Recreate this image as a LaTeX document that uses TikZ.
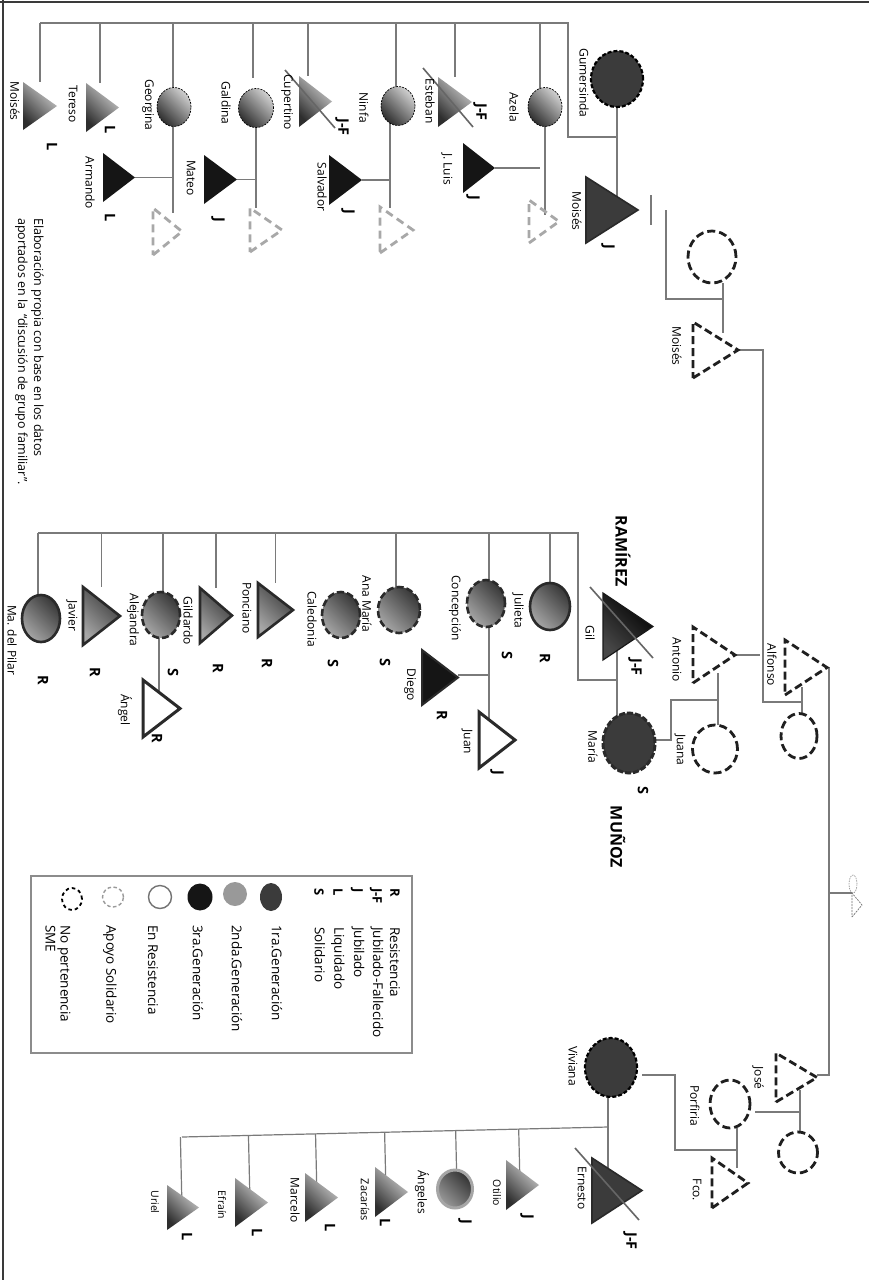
\documentclass[tikz,border=0pt]{standalone}
\usepackage{fontspec}
\setmainfont{Open Sans}
\usetikzlibrary{shapes.geometric,calc}
\pgfdeclarelayer{paper}
\pgfdeclarelayer{links}
\pgfsetlayers{paper,links,main}

\definecolor{linkgray}{HTML}{7A7A7A}
\definecolor{firstgen}{HTML}{3B3B3B}
\definecolor{thirdgen}{HTML}{151515}
\definecolor{edgedark}{HTML}{2A2A2A}
\definecolor{supportgray}{HTML}{A8A8A8}
\definecolor{framegray}{HTML}{3A3A3A}

\tikzset{
  link/.style={draw=linkgray, line width=1.2pt},
  name label/.style={rotate=-90, inner sep=0pt, font=\fontsize{12}{14}\selectfont},
  small label/.style={rotate=-90, inner sep=0pt, font=\fontsize{10.5}{12}\selectfont},
  code/.style={rotate=-90, inner sep=0pt, font=\bfseries\fontsize{14.5}{16}\selectfont},
  surname/.style={rotate=-90, inner sep=0pt, font=\bfseries\fontsize{16}{18}\selectfont},
  legend text/.style={rotate=-90, inner sep=0pt, anchor=west, align=left, font=\fontsize{13.5}{15}\selectfont},
  legend code/.style={rotate=-90, inner sep=0pt, anchor=west, font=\bfseries\fontsize{13}{15}\selectfont},
  bbox/.style={rectangle, inner sep=0pt, outer sep=0pt, draw=none},
  person/.style={ellipse, inner sep=0pt, outer sep=0pt},
  gen2a/.style={top color=black!18, bottom color=black!82, shading angle=-45},
  gen2acirc/.style={gen2a, draw=black, line width=0.7pt, dash pattern=on 2pt off 1.2pt},
  gen2b/.style={top color=black!78, bottom color=black!35, shading angle=-45, draw=edgedark, line width=2.6pt},
  gen2bdash/.style={gen2b, dash pattern=on 7pt off 3pt},
  firsttri/.style={fill=firstgen, draw=edgedark, line width=1.6pt},
  firstcirc/.style={fill=firstgen, draw=black, line width=2.2pt, dash pattern=on 4pt off 2pt},
  thirdtri/.style={fill=thirdgen},
  resisttri/.style={fill=white, draw=edgedark, line width=3pt},
  outsider/.style={draw=black!88, line width=2.8pt, dash pattern=on 8pt off 4pt},
  supporter/.style={draw=supportgray, line width=2.8pt, dash pattern=on 8pt off 5pt},
  strike/.style={draw=black!60, line width=1.6pt},
}

% triangle pointing right inside an invisible box: name, centre, width, height, look
\newcommand\persontri[5]{%
  \node[bbox, minimum width=#3pt, minimum height=#4pt] (#1) at (#2) {};
  \path[#5] (#1.south west) -- (#1.east) -- (#1.north west) -- cycle;
}
% ellipse person: name, centre, width, height, look
\newcommand\personell[5]{%
  \node[person, minimum width=#3pt, minimum height=#4pt, #5] (#1) at (#2) {};
}

\begin{document}
\begin{tikzpicture}[x=1pt, y=-1pt]
\useasboundingbox (0,0) rectangle (869,1282);
\begin{pgfonlayer}{paper}
  \fill[white] (0,0) rectangle (869,1282);
\end{pgfonlayer}

% frame
\draw[framegray, line width=2.5pt] (0,2) -- (869,2);
\draw[framegray, line width=2pt] (3,0) -- (3,1280);

% ---------------- Gumersinda and Moises ----------------
\personell{gumersinda}{617,79}{52}{56}{firstcirc}
\persontri{moisesJ}{612,210}{52}{66}{firsttri}
\personell{wifeMoises}{712,257}{48}{52}{outsider}
\persontri{moisesD}{715.5,350}{45}{56}{outsider}

\personell{azela}{545,107}{34}{39}{gen2acirc}
\persontri{spouseA}{544,221.5}{30}{43}{supporter}
\persontri{jluis}{479,168}{32}{50}{thirdtri}
\persontri{esteban}{455,102}{34}{50}{gen2a}
\draw[strike] (423,68) -- (473,127);
\personell{ninfa}{398,106}{34}{39}{gen2acirc}
\persontri{salvador}{345.5,180}{33}{50}{thirdtri}
\persontri{spouseN}{396.5,230}{33}{46}{supporter}
\persontri{cupertino}{315.5,101.5}{33}{51}{gen2a}
\draw[strike] (285,70) -- (335,128);
\personell{galdina}{256,108}{35}{39}{gen2acirc}
\persontri{mateo}{220.5,179.5}{33}{49}{thirdtri}
\persontri{spouseG}{266,230}{32}{44}{supporter}
\personell{georgina}{174,107}{34}{39}{gen2acirc}
\persontri{armando}{119,177.5}{32}{49}{thirdtri}
\persontri{spouseR}{167.5,231.5}{29}{47}{supporter}
\persontri{tereso}{102.5,107.5}{33}{49}{gen2a}
\persontri{moisesL}{40,106}{34}{48}{gen2a}

% ---------------- Alfonso, Antonio, Gil and Maria ----------------
\persontri{alfonso}{806,667.5}{42}{55}{outsider}
\personell{alfWife}{799,736}{36}{45}{outsider}
\persontri{antonio}{714,655}{42}{56}{outsider}
\personell{juana}{715,749}{45}{48}{outsider}
\persontri{gil}{628,626.5}{50}{67}{top color=black, bottom color=black!72, shading angle=-45, draw=black!90, line width=1.2pt}
\draw[strike] (590,587) -- (653,658);
\personell{maria}{629,743}{52}{60}{fill=firstgen, draw=edgedark, line width=3pt, dash pattern=on 6pt off 2pt}

\personell{julieta}{550,606.5}{40}{47}{gen2b}
\personell{concepcion}{486,603.5}{38}{47}{gen2bdash}
\persontri{diego}{440,677.5}{36}{55}{fill=thirdgen, draw=edgedark, line width=2pt}
\persontri{juan}{497,740}{36}{56}{resisttri}
\personell{anamaria}{399,610}{42}{46}{gen2bdash}
\personell{caledonia}{341,615}{38}{46}{gen2bdash}
\persontri{ponciano}{275.5,610}{35}{54}{gen2b}
\persontri{gildardo}{216,615.5}{32}{55}{gen2b}
\personell{alejandra}{161,615}{38}{46}{gen2bdash}
\persontri{angel}{161.5,708.5}{37}{57}{resisttri}
\persontri{javier}{101.5,616}{37}{58}{gen2b}
\personell{mapilar}{41,618.5}{38}{47}{gen2b}

% small sketched pair on the trunk
\personell{smallEll}{853,884}{8}{18}{draw=black!45, line width=0.6pt, dash pattern=on 1.5pt off 1pt}
\persontri{smallTri}{857,905}{10}{24}{draw=black!55, line width=0.7pt, dash pattern=on 2pt off 1pt}

% ---------------- Jose, Porfiria, Viviana and Ernesto ----------------
\persontri{jose}{796.5,1077.5}{41}{49}{outsider}
\personell{joseWife}{798,1152.5}{39}{41}{outsider}
\personell{porfiria}{730,1104}{40}{48}{outsider}
\persontri{fco}{730,1183}{36}{50}{outsider}
\personell{viviana}{611,1067.5}{52}{59}{firstcirc}
\persontri{ernesto}{617,1190.5}{50}{65}{firsttri}
\draw[strike] (575,1148) -- (639,1220);

\persontri{otilio}{522.5,1185}{33}{50}{gen2a}
\personell{angeles}{455,1189}{35}{38}{top color=black!80, bottom color=black!40, shading angle=-45, draw=black!35, line width=3pt}
\persontri{zacarias}{391.5,1192}{33}{50}{gen2a}
\persontri{marcelo}{321.5,1197.5}{33}{49}{gen2a}
\persontri{efrain}{251.5,1202.5}{33}{49}{gen2a}
\persontri{uriel}{183,1207.5}{32}{45}{gen2a}

% ---------------- connectors (drawn underneath the symbols) ----------------
\begin{pgfonlayer}{links}
  % Gumersinda and Moises with their children
  \coordinate (gmMid) at (617,137);
  \coordinate (kidsA) at (568,23);
  \draw[link] (gumersinda.center) -- (gumersinda.center |- moisesJ.center);
  \draw[link] (gmMid) -| (kidsA) -- (moisesL.north |- kidsA);
  \foreach \k in {moisesL, esteban}
    \draw[link] (\k.north |- kidsA) -- (\k.north);
  \draw[link] ([xshift=-2.5pt]tereso.north |- kidsA) -- ([xshift=-2.5pt]tereso.north);
  \draw[link] ([xshift=-7.5pt]cupertino.north |- kidsA) -- ([xshift=-7.5pt]cupertino.north);
  \draw[link] ([xshift=-1pt]georgina.center |- kidsA) -- ([xshift=-1pt]georgina.center);
  \draw[link] ([xshift=-2pt]ninfa.center |- kidsA) -- ([xshift=-2pt]ninfa.center);
  \draw[link] ([xshift=-5pt]azela.center |- kidsA) -- ([xshift=-5pt]azela.center);
  \draw[link] ([xshift=-3pt]galdina.north |- kidsA) -- ([xshift=-3pt,yshift=11pt]galdina.north);

  \draw[link] (azela.center) -- ([yshift=-15pt]azela.center |- spouseA.north);
  \draw[link] (jluis.east) -- ([xshift=-5pt]azela.center |- jluis.east);
  \draw[link] ([xshift=-8pt]ninfa.center) -- ([xshift=-8pt,yshift=-1pt]ninfa.center |- spouseN.north);
  \draw[link] (salvador.east) -- ([xshift=-8pt]ninfa.center |- salvador.east);
  \draw[link] (galdina.center) -- (galdina.center |- spouseG.north);
  \draw[link] (mateo.east) -- (galdina.center |- mateo.east);
  \draw[link] ([xshift=-1pt]georgina.center) -- ([xshift=-1pt,yshift=-5pt]georgina.center |- spouseR.north);
  \draw[link] (armando.east) -- ([xshift=-1pt]georgina.center |- armando.east);

  % eldest couple and the trunk
  \coordinate (tickTop) at (651,195);
  \coordinate (tickBot) at (651,225);
  \draw[link] (tickTop) -- (tickBot);
  \coordinate (kidsB) at (666,210);
  \coordinate (pairMid) at (723,299);
  \draw[link] (kidsB) |- (pairMid);
  \draw[link] ([xshift=11pt]wifeMoises.south) -- ([xshift=7.5pt,yshift=-11pt]moisesD.north);
  \coordinate (trunkA) at (763,702);
  \draw[link] (moisesD.east) -| (trunkA) -- ([xshift=3pt]alfWife.north |- trunkA);
  \draw[link] ([xshift=3pt]alfWife.north) -- ([xshift=3pt,yshift=8pt]alfWife.north |- alfonso.south);
  \coordinate (trunkB) at (829,1075);
  \draw[link] (alfonso.east) -| (trunkB) -- (jose.east |- trunkB);
  \draw[link] (smallTri.north west -| trunkB) -- (smallTri.north west);

  % Antonio and Juana
  \coordinate (antEnd) at (760,655);
  \draw[link] (antonio.east) -- (antEnd);
  \coordinate (ajMid) at (718,700);
  \coordinate (ajLow) at (671,740);
  \draw[link] ([xshift=3pt]juana.north) -- ([xshift=3pt,yshift=10pt]juana.north |- antonio.south);
  \draw[link] (ajMid) -| (ajLow) -- (ajLow -| maria.east);

  % Gil and Maria with their children
  \coordinate (gmPair) at (617,680);
  \coordinate (kidsC) at (578,533);
  \draw[link] ([xshift=-12pt]maria.center) -- ([xshift=-12pt]maria.center |- gil.center);
  \draw[link] (gmPair) -| (kidsC) -- ([xshift=-3pt]mapilar.north |- kidsC);
  \foreach \k/\dx in {julieta/0, concepcion/3, anamaria/-3, alejandra/2, mapilar/-3}
    \draw[link] ([xshift=\dx pt]\k.center |- kidsC) -- ([xshift=\dx pt]\k.center);
  \foreach \k in {ponciano, gildardo, javier}
    \draw[link] (\k.north |- kidsC) -- (\k.north);
  \draw[link] ([xshift=3pt]concepcion.center) -- ([xshift=3pt]concepcion.center |- juan.center);
  \coordinate (cdJ) at (489,675);
  \draw[link] (cdJ) -- (cdJ -| diego.east);
  \draw[link] ([xshift=-2pt]alejandra.center) -- ([xshift=-2pt]alejandra.center |- angel.center);

  % Viviana and Ernesto with their children
  \draw[link] ([xshift=-3pt]viviana.center) -- ([xshift=-3pt]viviana.center |- ernesto.center);
  \coordinate (kidsD1) at (608,1127);
  \coordinate (kidsD2) at (182,1137);
  \draw[link] (kidsD1) -- (kidsD2);
  \foreach \k/\dx in {otilio/-2.5, angeles/2, zacarias/-5.5, marcelo/-4.5, efrain/-1.5, uriel/-1}
    \draw[link] ($(kidsD1)!([xshift=\dx pt]\k.center)!(kidsD2)$) -- ([xshift=\dx pt]\k.center);

  % Jose, his wife, Porfiria and Fco.
  \draw[link] ([xshift=2pt]joseWife.north) -- ([xshift=2pt,yshift=12pt]joseWife.north |- jose.south);
  \coordinate (jpMid) at (800,1112);
  \coordinate (jpEnd) at (755,1112);
  \draw[link] (jpMid) -- (jpEnd);
  \draw[link] ([xshift=7pt]porfiria.south) -- ([xshift=7pt,yshift=-10pt]porfiria.south |- fco.north);
  \coordinate (pfMid) at (737,1150);
  \coordinate (pfTop) at (675,1075);
  \draw[link] (pfMid) -| (pfTop) -- ([xshift=5pt]viviana.east |- pfTop);
\end{pgfonlayer}

% ---------------- names and codes ----------------
\node[name label] (l-gumersinda) at (584,83) {Gumersinda};
\node[name label] (l-moisesJ) at (577,211) {Moisés};
\node[code] (c-moisesJ) at (608,247) {J};
\node[name label] (l-moisesD) at (677,346) {Moisés};
\node[name label] (l-azela) at (514,107) {Azela};
\node[name label] (l-jluis) at (447,169) {J. Luis};
\node[code] (c-jluis) at (473,198) {J};
\node[name label] (l-esteban) at (430,101) {Esteban};
\node[code] (c-esteban) at (480,112) {J-F};
\node[name label] (l-ninfa) at (364,108) {Ninfa};
\node[name label] (l-salvador) at (322,187) {Salvador};
\node[code] (c-salvador) at (348,212) {J};
\node[name label] (l-cupertino) at (287,102) {Cupertino};
\node[code] (c-cupertino) at (342,127) {J-F};
\node[name label] (l-galdina) at (226,103) {Galdina};
\node[name label] (l-mateo) at (191,178) {Mateo};
\node[code] (c-mateo) at (218,220) {J};
\node[name label] (l-georgina) at (148,105) {Georgina};
\node[name label] (l-armando) at (90,183) {Armando};
\node[code] (c-armando) at (110,218) {L};
\node[name label] (l-tereso) at (73,104) {Tereso};
\node[code] (c-tereso) at (110,130) {L};
\node[name label] (l-moisesL) at (15,101) {Moisés};
\node[code] (c-moisesL) at (52,147) {L};

\node[surname] (s-ramirez) at (623,551) {RAMÍREZ};
\node[name label] (l-gil) at (590,633) {Gil};
\node[code] (c-gil) at (635,667) {J-F};
\node[name label] (l-maria) at (593,747) {María};
\node[code] (c-maria) at (643,790) {S};
\node[surname] (s-munoz) at (618,837) {MUÑOZ};
\node[name label] (l-antonio) at (677,660) {Antonio};
\node[name label] (l-alfonso) at (772,665) {Alfonso};
\node[name label] (l-juana) at (680,750) {Juana};

\node[name label] (l-julieta) at (518,611) {Julieta};
\node[code] (c-julieta) at (545,658) {R};
\node[name label] (l-concepcion) at (455,608) {Concepción};
\node[code] (c-concepcion) at (507,655) {S};
\node[name label] (l-diego) at (410,685) {Diego};
\node[code] (c-diego) at (442,715) {R};
\node[name label] (l-juan) at (467,742) {Juan};
\node[code] (c-juan) at (497,773) {J};
\node[name label] (l-anamaria) at (367,604) {Ana María};
\node[code] (c-anamaria) at (385,662) {S};
\node[name label] (l-caledonia) at (312,619) {Caledonia};
\node[code] (c-caledonia) at (333,663) {S};
\node[name label] (l-ponciano) at (247,608) {Ponciano};
\node[code] (c-ponciano) at (267,663) {R};
\node[name label] (l-gildardo) at (188,621) {Gildardo};
\node[code] (c-gildardo) at (218,668) {R};
\node[name label] (l-alejandra) at (133,620) {Alejandra};
\node[code] (c-alejandra) at (173,672) {S};
\node[name label] (l-angel) at (125,710) {Ángel};
\node[code] (c-angel) at (157,738) {R};
\node[name label] (l-javier) at (72,616) {Javier};
\node[code] (c-javier) at (95,672) {R};
\node[name label] (l-mapilar) at (12,640) {Ma. del Pilar};
\node[code] (c-mapilar) at (43,680) {R};

\node[name label] (l-jose) at (758,1078) {José};
\node[name label] (l-porfiria) at (695,1106) {Porfiria};
\node[name label] (l-fco) at (697,1190) {Fco.};
\node[name label] (l-viviana) at (573,1066) {Viviana};
\node[name label] (l-ernesto) at (582,1188) {Ernesto};
\node[code] (c-ernesto) at (630,1241) {J-F};
\node[small label] (l-otilio) at (497,1193) {Otilio};
\node[code] (c-otilio) at (527,1217) {J};
\node[name label] (l-angeles) at (422,1192) {Ángeles};
\node[code] (c-angeles) at (465,1222) {J};
\node[name label, font=\fontsize{11}{13}\selectfont] (l-zacarias) at (365,1200) {Zacarías};
\node[code] (c-zacarias) at (385,1223) {L};
\node[name label] (l-marcelo) at (295,1200) {Marcelo};
\node[code] (c-marcelo) at (330,1228) {L};
\node[small label] (l-efrain) at (222,1205) {Efraín};
\node[code] (c-efrain) at (257,1233) {L};
\node[small label] (l-uriel) at (155,1202) {Uriel};
\node[code] (c-uriel) at (187,1237) {L};

% ---------------- legend ----------------
\node[draw=black!45, line width=1.2pt, minimum width=381pt, minimum height=177pt, inner sep=0pt] (legend) at (221.5,964.5) {};
\node[legend code] (k-r) at (395,888) {R};
\node[legend code] (k-jf) at (376,888) {J-F};
\node[legend code] (k-j) at (357,888) {J};
\node[legend code] (k-l) at (338,888) {L};
\node[legend code] (k-s) at (319,888) {S};
\node[legend text] (t-r) at (395,927) {Resistencia};
\node[legend text] (t-jf) at (377,927) {Jubilado-Fallecido};
\node[legend text] (t-j) at (358,927) {Jubilado};
\node[legend text] (t-l) at (338,927) {Liquidado};
\node[legend text] (t-s) at (320,927) {Solidario};

\node[person, minimum width=22pt, minimum height=28pt, fill=firstgen] (g-first) at (271,897) {};
\node[person, minimum width=24pt, minimum height=24pt, fill=black!40] (g-second) at (235,894) {};
\node[person, minimum width=25pt, minimum height=27pt, fill=thirdgen] (g-third) at (200,897) {};
\node[person, minimum width=23pt, minimum height=23pt, fill=white, draw=black!55, line width=1.4pt] (g-resist) at (160,897) {};
\node[person, minimum width=21pt, minimum height=20pt, draw=black!40, line width=1.4pt, dash pattern=on 3.5pt off 2.5pt] (g-support) at (113,897) {};
\node[person, minimum width=20pt, minimum height=22pt, draw=black, line width=1.8pt, dash pattern=on 3.5pt off 3pt] (g-outside) at (72,899) {};
\node[legend text] (t-first) at (277,925) {1ra.Generación};
\node[legend text] (t-second) at (237,925) {2nda.Generación};
\node[legend text] (t-third) at (198,925) {3ra.Generación};
\node[legend text] (t-resist) at (153,925) {En Resistencia};
\node[legend text] (t-support) at (110,925) {Apoyo Solidario};
\node[legend text] (t-outside) at (58,925) {No pertenencia\\SME};

% ---------------- source note ----------------
\node[rotate=-90, anchor=north west, align=left, inner sep=0pt, font=\fontsize{12.5}{16}\selectfont] (note) at (44,218)
  {Elaboración propia con base en los datos\\aportados en la \,“discusión de grupo familiar”.};
\end{tikzpicture}
\end{document}
